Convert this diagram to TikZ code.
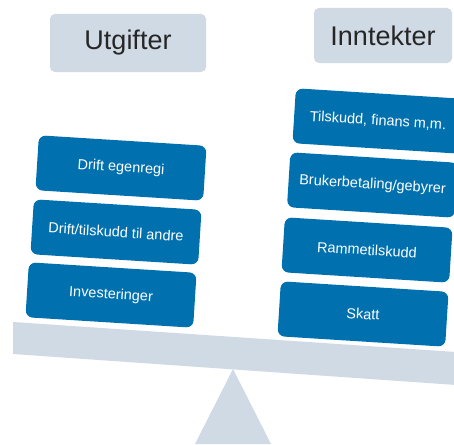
\documentclass[tikz,border=0pt]{standalone}
\usepackage{fontspec}
\setmainfont{Liberation Sans}
\definecolor{beamgray}{RGB}{207,218,229}
\definecolor{postblue}{RGB}{0,113,174}
\tikzset{
    titlebox/.style={fill=beamgray, rounded corners=5pt, inner sep=0pt,
        font=\fontsize{27}{30}\selectfont, text=black!85},
    postbox/.style={fill=postblue, rounded corners=7pt, inner sep=0pt,
        minimum width=168pt, minimum height=55pt, rotate=-3.6,
        font=\fontsize{14.5}{16}\selectfont, text=white}
}

\begin{document}
\begin{tikzpicture}[x=1pt,y=-1pt]
    \clip (0,0) rectangle (454,444);
    % vekt: fot og bjelke
    \fill[beamgray] (233,369) -- (195,444) -- (271,444) -- cycle;
    \fill[beamgray] (13,322) -- (456,352) -- (456,385) -- (13,354) -- cycle;
    % overskrifter
    \node[titlebox, minimum width=156pt, minimum height=58pt] (utgifter) at (128,43) {Utgifter};
    \node[titlebox, minimum width=138pt, minimum height=55pt] (inntekter) at (383,35.5) {Inntekter};
    % utgifter
    \foreach \name/\x/\y/\txt in {egenregi/121/168/{Drift egenregi},
        andre/116/232/{Drift/tilskudd til andre},
        invest/111/295/{Investeringer}} {
        \node[postbox] (\name) at (\x,\y) {\txt};
    }
    % inntekter
    \foreach \name/\x/\y/\txt in {tilskudd/378/121/{Tilskudd, finans m,m.},
        gebyrer/372.5/185/{Brukerbetaling/gebyrer},
        ramme/367/250/{Rammetilskudd},
        skatt/363/314/{Skatt}} {
        \node[postbox] (\name) at (\x,\y) {\txt};
    }
\end{tikzpicture}
\end{document}
